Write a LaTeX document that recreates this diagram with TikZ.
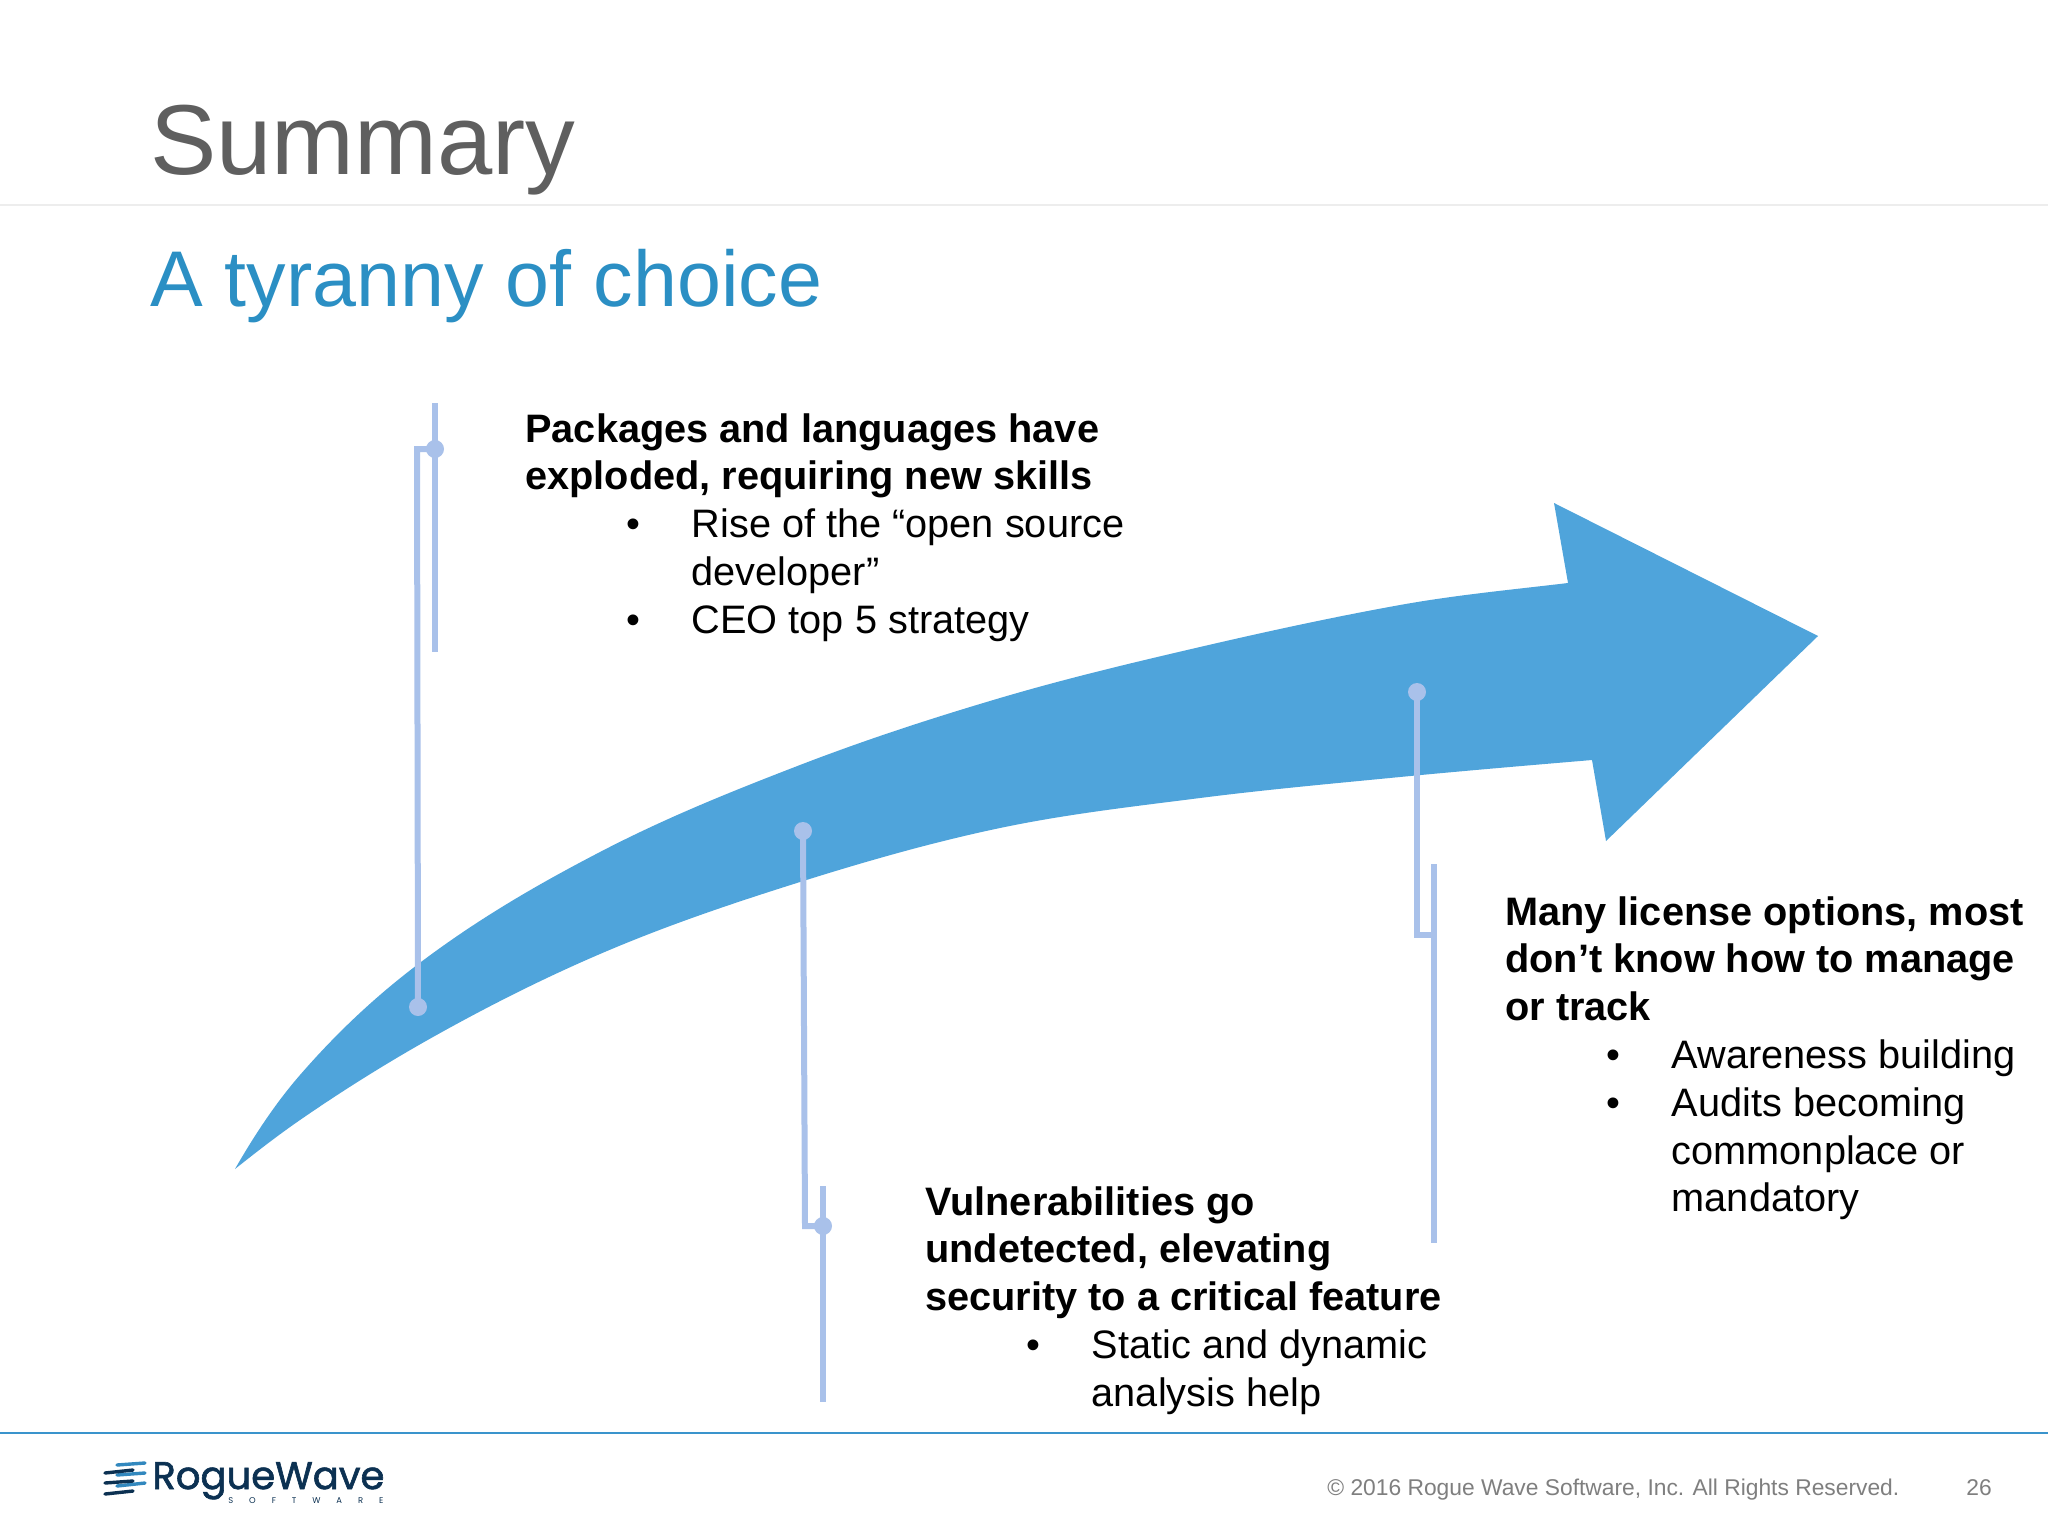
\documentclass[tikz,border=0pt]{standalone}
\usepackage{fontspec}
\usepackage{graphicx}
\setmainfont{Liberation Sans}
\newfontfamily\logofont[FakeBold=1.6]{Poppins}
\newfontfamily\logosmall{Poppins}
\definecolor{titlegray}{HTML}{5F5F5F}
\definecolor{subblue}{HTML}{2B8FC4}
\definecolor{arrowblue}{HTML}{4FA4DB}
\definecolor{linkblue}{HTML}{A9C1EA}
\definecolor{footline}{HTML}{3A94CC}
\definecolor{footgray}{HTML}{7F7F7F}
\definecolor{logodark}{HTML}{0C3152}
\definecolor{logolight}{HTML}{3288BE}
\newcommand{\bul}{\hspace*{50.5pt}\makebox[32.7pt][l]{•}}
\newcommand{\ind}{\hspace*{83.2pt}}
\tikzset{
  blocktext/.style={anchor=north west,inner sep=0pt,align=left,text=black,font=\fontsize{19.85}{23.9}\selectfont},
  link/.style={draw=linkblue,line width=3pt},
  linkbar/.style={draw=linkblue,line width=3pt},
  linkdot/.style={circle,fill=linkblue,inner sep=0pt,minimum size=9pt},
  wavedark/.style={draw=logodark,line width=1.7pt,line cap=round},
  wavelight/.style={draw=logolight,line width=1.7pt,line cap=round}
}
\begin{document}
\begin{tikzpicture}[x=0.5pt,y=-0.5pt]
\useasboundingbox (0,0) rectangle (2048,1536);
\fill[white] (0,0) rectangle (2048,1536);
% rules
\coordinate (hl) at (0,205); \coordinate (hr) at (2048,205);
\draw[draw=black!7,line width=1pt] (hl) -- (hr);
\coordinate (fl) at (0,1433); \coordinate (fr) at (2048,1433);
\draw[draw=footline,line width=1.2pt] (fl) -- (fr);
% titles
\node[anchor=base west,inner sep=0pt,text=titlegray,font=\fontsize{49.7}{50}\selectfont] (title) at (150,174) {Summary};
\node[anchor=base west,inner sep=0pt,text=subblue,font=\fontsize{39.5}{40}\selectfont] (sub) at (150,306) {A tyranny of choice};
% big arrow
\fill[arrowblue] (235,1169)
  .. controls (256.7,1131.1) and (278.3,1099.9) .. (300,1075)
  .. controls (339,1030.1) and (378,994.6) .. (417,965)
  .. controls (478,918.6) and (539,883.7) .. (600,852)
  .. controls (666.7,817.3) and (733.3,790.7) .. (800,765)
  .. controls (866.7,739.3) and (933.3,717.7) .. (1000,698)
  .. controls (1066.7,678.3) and (1133.3,662.5) .. (1200,647)
  .. controls (1266.7,631.5) and (1333.3,617) .. (1400,605)
  .. controls (1456,594.9) and (1512,589.7) .. (1568,583)
  -- (1554,503) -- (1818,636) -- (1606,841) -- (1592,760)
  .. controls (1528,765.4) and (1464,770.8) .. (1400,777)
  .. controls (1333.3,783.5) and (1266.7,789.5) .. (1200,798)
  .. controls (1133.3,806.5) and (1066.7,814) .. (1000,828)
  .. controls (933.3,842) and (866.7,861) .. (800,882)
  .. controls (733.3,903) and (666.7,925.3) .. (600,954)
  .. controls (544.3,977.9) and (488.7,1005.8) .. (433,1037)
  .. controls (388.7,1061.8) and (344.3,1089.4) .. (300,1120)
  .. controls (278.3,1135) and (256.7,1151.7) .. (235,1169) -- cycle;
% connectors
\node[linkdot] (d1) at (435,449) {};
\coordinate (b1t) at (435,403); \coordinate (b1b) at (435,652);
\coordinate (e1) at (417,449);
\node[linkdot] (d1b) at (418,1007) {};
\draw[linkbar] (b1t) -- (b1b);
\draw[link] (d1.center) -- (e1) -- (d1b.center);
\node[linkdot] (d2) at (803,831) {};
\coordinate (e2) at (805,1226);
\node[linkdot] (d2b) at (823,1226) {};
\coordinate (b2t) at (823,1186); \coordinate (b2b) at (823,1402);
\draw[linkbar] (b2t) -- (b2b);
\draw[link] (d2.center) -- (e2) -- (d2b.center);
\node[linkdot] (d3) at (1417,692) {};
\coordinate (e3) at (1417,935);
\coordinate (j3) at (1434,935);
\coordinate (b3t) at (1434,864); \coordinate (b3b) at (1434,1243);
\draw[linkbar] (b3t) -- (b3b);
\draw[link] (d3.center) -- (e3) -- (j3);
% text blocks
\node[blocktext] (t1) at (525,413) {\textbf{Packages and languages have}\\\textbf{exploded, requiring new skills}\\\bul Rise of the “open source\\\ind developer”\\\bul CEO top 5 strategy};
\node[blocktext] (t2) at (925,1186) {\textbf{Vulnerabilities go}\\\textbf{undetected, elevating}\\\textbf{security to a critical feature}\\\bul Static and dynamic\\\ind analysis help};
\node[blocktext] (t3) at (1505,896) {\textbf{Many license options, most}\\\textbf{don’t know how to manage}\\\textbf{or track}\\\bul Awareness building\\\bul Audits becoming\\\ind commonplace or\\\ind mandatory};
% footer
\node[anchor=base west,inner sep=0pt,text=footgray,font=\fontsize{11.4}{14}\selectfont] (copy) at (1327,1495) {© 2016 Rogue Wave Software, Inc. All Rights Reserved.};
\node[anchor=base west,inner sep=0pt,text=footgray,font=\fontsize{11.4}{14}\selectfont] (page) at (1966,1495) {26};
% logo
\coordinate (w1a) at (117,1465); \coordinate (w1b) at (145,1463);
\coordinate (w2a) at (105,1473); \coordinate (w2b) at (133,1470);
\coordinate (w3a) at (117,1475); \coordinate (w3b) at (145,1473);
\coordinate (w4a) at (105,1483); \coordinate (w4b) at (133,1481);
\coordinate (w5a) at (117,1486); \coordinate (w5b) at (145,1483);
\coordinate (w6a) at (105,1494); \coordinate (w6b) at (133,1491);
\draw[wavelight] (w1a) -- (w1b);
\draw[wavelight] (w3a) -- (w3b);
\draw[wavelight] (w5a) -- (w5b);
\draw[wavedark] (w2a) -- (w2b);
\draw[wavedark] (w4a) -- (w4b);
\draw[wavedark] (w6a) -- (w6b);
\node[anchor=base west,inner sep=0pt,text=logodark] (logo) at (152,1489) {\resizebox{116pt}{!}{\logofont RogueWave}};
\node[anchor=base west,inner sep=0pt,text=logodark,font=\logosmall\fontsize{4.2}{5}\selectfont] (soft) at (228,1503) {\makebox[77.5pt][s]{S\hfill O\hfill F\hfill T\hfill W\hfill A\hfill R\hfill E}};
\end{tikzpicture}
\end{document}
